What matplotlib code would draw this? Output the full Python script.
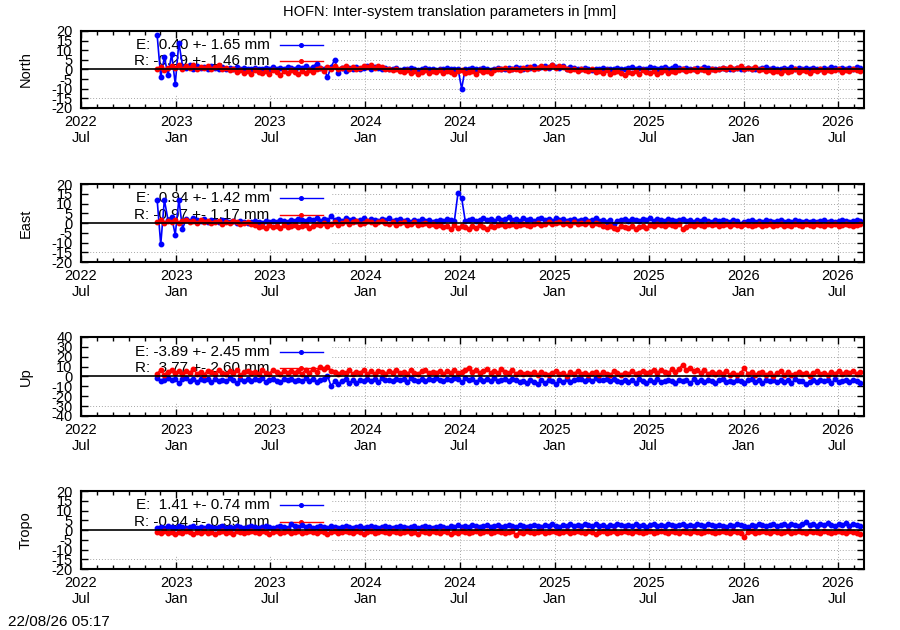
import numpy as np
import pandas as pd
import matplotlib
matplotlib.use("Agg")
import matplotlib.pyplot as plt
import matplotlib.dates as mdates
from matplotlib.patches import Rectangle

plt.rcParams['font.family'] = ['Liberation Sans', 'DejaVu Sans']

# weekly samples starting at first epoch
start_date = "2022-11-25"

north_e = [18.0, -4.0, 6.5, -3.0, 8.0, -7.5, 14.0, 2.0, 1.0, 2.5, 0.5, 2.0, 1.0,
           1.5, 0.5, 2.0, 1.0, 0.5, 1.5, 0.0, 1.0, 0.5, 1.5, 0.0, 1.0, 0.5,
           0.0, 1.0, 0.5, 0.0, 1.0, 0.5, 1.5, 0.0, 1.0, 0.5, 1.5, 1.0, 0.5,
           1.5, 1.0, 2.0, 0.5, 1.5, 3.0, 1.0, 0.5, -4.0, 1.5, 5.0, -2.0, 1.0,
           -1.0, 1.0, 0.5, 1.5, 0.0, 1.0, 2.0, 0.5, 1.5, 1.0, 0.0, 1.0, 0.5,
           0.0, 1.0, -0.5, 0.5, 0.0, 1.0, 0.5, -0.5, 0.5, 1.0, 0.0, 0.5, -0.5,
           0.5, 0.0, 1.0, 0.5, 0.0, 0.5, -10.0, 0.5, 0.0, 1.0, 0.5, 0.0, 1.0,
           0.5, -0.5, 0.5, 1.0, 0.0, 0.5, 1.0, 0.5, 1.5, 1.0, 0.5, 1.5, 1.0,
           2.0, 1.0, 1.5, 2.0, 1.0, 2.5, 1.5, 1.0, 2.0, 0.5, 1.5, 1.0, 0.5,
           0.0, 1.0, 0.5, -0.5, 0.5, 0.0, 1.0, 0.5, 0.0, 0.5, 1.0, 0.0, 0.5,
           1.0, 1.5, 0.5, 1.0, 0.0, 0.5, 1.5, 1.0, 0.5, 1.0, 1.5, 0.5, 1.0,
           2.0, 1.0, 0.5, 1.0, 0.0, 0.5, 1.0, 0.5, 1.5, 1.0, 0.5, 0.0, 0.5,
           1.0, 0.5, 0.0, 0.5, 1.0, 0.0, 0.5, 1.0, 0.5, 0.0, 0.5, 1.0, 1.5,
           0.5, 1.0, 0.5, 0.0, 1.0, 0.5, 1.5, 0.5, 1.0, 0.5, 1.0, 0.5, 1.0,
           0.0, 0.5, 1.0, 0.5, 1.5, 1.0, 0.5, 1.0, 0.5, 1.0, 0.5, 1.5, 1.0]
north_r = [0.5, 1.5, -0.5, 1.0, 2.0, 1.0, 2.5, 0.5, 2.0, 1.0, 2.5, 0.0, 1.5,
           1.0, 2.0, 0.5, 1.5, 2.5, 0.5, 1.0, -0.5, 0.0, -1.5, -0.5, -2.0, -1.0,
           -2.5, -0.5, -1.5, -2.0, -1.0, -2.5, -0.5, -1.5, -3.0, -1.0, -2.0, -0.5, -1.5,
           -2.5, -1.0, -2.0, -0.5, -1.5, 0.0, 1.0, -1.0, 1.5, 0.0, 2.0, 0.5, 1.0,
           2.0, 0.5, 1.5, 0.0, 1.0, 2.0, 1.5, 2.5, 1.0, 2.0, 1.5, 0.5, 0.0,
           -0.5, 0.5, -1.0, -1.5, -0.5, -2.0, -1.0, -2.5, -1.5, -0.5, -2.0, -1.0, -1.5,
           -0.5, -2.0, -1.0, -1.5, -2.5, -1.0, -0.5, -2.0, -1.5, -1.0, -2.5, -0.5, -1.5,
           -1.0, -2.0, -0.5, 0.5, 0.0, 1.0, -0.5, 0.5, 0.0, -0.5, 1.0, 0.5, 1.5,
           0.5, 1.0, 2.0, 1.0, 1.5, 2.5, 1.0, 2.0, 1.5, 0.0, -0.5, 0.5, -1.0,
           0.0, -0.5, -1.0, 0.5, -1.5, -1.0, -2.0, -0.5, -2.5, -1.5, -1.0, -2.0, -3.0,
           -1.5, -2.0, -1.0, -2.5, -0.5, -1.5, -2.0, -1.0, -2.5, -1.5, -0.5, -2.0, -1.0,
           -1.5, -0.5, 0.0, -1.0, -0.5, 0.5, -1.0, 0.0, -0.5, -1.5, 0.0, -0.5, 0.5,
           1.0, 0.0, 1.5, 0.5, 1.0, 2.0, 0.5, 1.0, 0.0, 1.5, -0.5, 0.0, -1.0,
           -0.5, -1.5, -1.0, -2.0, -0.5, -1.5, -1.0, 0.0, -1.5, -0.5, -1.0, -2.0, -0.5,
           -1.0, 0.0, -1.5, -0.5, -1.0, -0.5, 0.0, -1.5, -0.5, -1.0, 0.0, -0.5, -1.0]

east_e = [12.0, -11.0, 12.0, 1.5, 3.0, -6.0, 12.0, -3.0, 2.0, 1.0, 2.5, 1.5, 1.0,
          2.0, 0.5, 1.5, 1.0, 0.5, 1.5, 1.0, 0.5, 1.0, 0.0, 1.0, 0.5, 0.0,
          0.5, 1.0, 0.5, 0.0, 1.0, 0.5, 1.0, 0.5, 1.5, 1.0, 0.5, 1.5, 1.0,
          2.0, 1.5, 1.0, 2.0, 1.5, 2.5, 1.0, 2.0, 1.5, 3.5, 1.5, 2.0, 1.0,
          2.5, 1.5, 2.0, 1.0, 1.5, 2.5, 1.0, 2.0, 1.5, 1.0, 2.0, 1.5, 2.5,
          1.0, 1.5, 2.0, 1.0, 1.5, 0.5, 1.5, 1.0, 2.0, 1.0, 1.5, 0.5, 1.0,
          1.5, 1.0, 2.0, 1.5, 1.0, 15.5, 13.0, 1.0, 1.5, 2.0, 1.0, 1.5, 2.5,
          1.5, 2.0, 1.0, 2.5, 1.5, 2.0, 3.0, 1.5, 2.0, 1.0, 2.5, 1.5, 2.0,
          1.0, 2.0, 2.5, 1.5, 2.0, 1.0, 2.5, 1.5, 2.0, 1.0, 1.5, 2.0, 1.0,
          1.5, 2.0, 1.0, 1.5, 2.5, 1.0, 1.5, 0.5, 1.5, -0.5, 1.0, 1.5, 2.0,
          1.0, 2.0, 1.5, 1.0, 2.0, 1.5, 2.5, 1.0, 2.0, 1.5, 1.0, 2.0, 1.5,
          1.0, 1.5, 2.0, 1.0, 1.5, 0.5, 1.5, 1.0, 2.0, 1.0, 0.5, 1.5, 1.0,
          1.5, 1.0, 0.5, 1.5, 1.0, -0.5, 0.5, 1.0, 1.5, 0.5, 1.0, 0.5, 1.5,
          1.0, 0.5, 1.0, 1.5, 0.5, 1.0, 0.5, 1.5, 1.0, 0.5, 1.0, 0.5, 1.0,
          0.5, 1.0, 1.5, 0.5, 1.0, 0.5, 1.0, 1.5, 1.0, 0.5, 1.0, 1.5, 1.0]
east_r = [0.5, 1.5, 0.0, 1.0, 0.5, 1.5, 0.0, 1.0, 1.5, 0.5, 1.0, 0.0, 1.5,
          0.5, 1.0, 0.0, 0.5, 1.0, -0.5, 0.5, 0.0, 1.0, 0.5, -0.5, 0.0, 0.5,
          -0.5, -1.0, -2.0, -1.5, -2.5, -1.0, -2.0, -1.5, -2.5, -1.0, -2.0, -1.5, -1.0,
          -2.0, -1.5, -1.0, -2.5, -1.5, -0.5, -1.0, 0.0, -1.5, -0.5, 0.5, -1.0, 0.0,
          1.0, -0.5, 0.5, 1.0, -0.5, 0.0, 1.0, 0.5, -0.5, 0.5, 1.0, 0.0, -0.5,
          0.5, -1.0, 0.0, 0.5, -1.0, -0.5, 0.5, -1.0, -0.5, 0.0, -1.0, -0.5, -1.5,
          -1.0, -2.0, -1.5, -3.0, -1.0, -2.5, -1.5, -2.0, -3.0, -1.5, -2.5, -1.0, -2.0,
          -3.0, -1.5, -2.0, -1.0, -0.5, -1.5, -1.0, -0.5, -1.5, -1.0, -0.5, -1.0, -1.5,
          -0.5, 0.0, -1.0, -0.5, 0.5, -0.5, 0.0, 0.5, -0.5, 0.0, -1.0, 0.5, -0.5,
          0.0, -0.5, 0.5, -1.0, 0.0, -0.5, -1.5, -2.0, -1.5, -2.5, -3.0, -1.5, -2.0,
          -2.5, -1.5, -3.0, -2.0, -1.5, -2.5, -1.0, -1.5, -0.5, -1.0, -1.5, -0.5, -1.0,
          -1.5, -0.5, -3.0, -2.0, -1.0, -1.5, -0.5, -1.0, -1.5, -0.5, -1.0, -0.5, -1.5,
          -1.0, -0.5, -1.5, -0.5, -1.0, -1.5, -0.5, -1.0, -1.5, -1.0, -0.5, -1.5, -1.0,
          -0.5, -1.5, -1.0, -0.5, -1.5, -1.0, -1.5, -0.5, -1.0, -1.5, -0.5, -1.0, -1.5,
          -0.5, -1.0, -1.5, -0.5, -1.0, -0.5, -1.5, -1.0, -0.5, -1.0, -1.5, -1.0, -0.5]

up_e = [-2.0, -5.0, -3.5, -1.5, -4.0, -2.5, -6.5, -3.0, -2.0, -4.5, -3.0, -5.5, -2.5,
        -4.0, -3.0, -6.0, -2.5, -4.5, -3.5, -5.0, -2.0, -4.0, -6.5, -3.0, -4.5, -2.5,
        -5.0, -3.0, -4.0, -2.0, -5.5, -3.5, -2.5, -4.5, -6.0, -3.0, -4.0, -2.5, -5.0,
        -3.5, -4.5, -2.0, -5.0, -3.0, -6.0, -4.0, -2.5, 1.0, -10.0, -4.5, -8.0, -5.0,
        -3.0, -6.5, -4.0, -7.0, -3.5, -5.0, -2.5, -4.5, -3.0, -5.5, -2.0, -4.0, -3.5,
        -5.0, -2.5, -4.0, -3.0, -5.5, -2.0, -3.5, -4.5, -2.5, -5.0, -3.0, -4.0, -2.0,
        -3.5, -5.0, -2.5, -4.0, -1.5, -3.0, -5.5, -2.0, -4.0, -3.0, -6.0, -2.5, -4.5,
        -3.0, -5.0, -2.0, -4.5, -3.5, -2.5, -5.0, -3.0, -4.0, -6.0, -4.5, -7.0, -3.5,
        -5.5, -8.0, -4.0, -6.5, -3.5, -5.0, -7.5, -4.0, -6.0, -3.0, -5.5, -4.0, -3.0,
        -2.5, -4.5, -3.0, -5.0, -2.0, -4.0, -3.5, -2.5, -5.0, -3.0, -4.5, -6.0, -3.5,
        -5.5, -4.0, -6.5, -3.0, -5.0, -7.0, -4.0, -5.5, -3.0, -6.0, -4.5, -3.5, -5.0,
        -6.5, -3.5, -5.0, -4.0, -7.0, -3.0, -5.5, -4.0, -6.0, -3.5, -5.0, -6.5, -4.0,
        -3.0, -5.5, -4.5, -6.0, -3.5, -5.0, -7.0, -4.0, -3.0, -5.5, -4.0, -6.5, -3.5,
        -5.0, -4.0, -6.0, -3.5, -5.5, -4.0, -6.5, -3.0, -5.0, -4.5, -8.0, -5.5, -4.0,
        -6.0, -3.5, -5.0, -4.0, -6.5, -3.0, -5.5, -4.5, -3.5, -6.0, -4.0, -5.0, -6.5]
up_r = [3.0, 6.5, 2.0, 5.0, 7.0, 3.5, 5.5, 2.5, 6.0, 4.0, 7.5, 3.0, 5.0,
        2.0, 6.0, 4.5, 3.0, 7.0, 4.0, 2.5, 5.5, 3.5, 6.5, 2.0, 4.5, 6.0,
        3.5, 5.0, 2.5, 6.5, 4.0, 3.0, 7.0, 4.5, 2.5, 5.5, 3.5, 6.0, 4.0,
        5.5, 3.0, 6.5, 4.0, 7.5, 5.0, 9.5, 8.0, 10.0, 6.0, 4.5, 2.5, 5.0,
        3.5, 6.5, 2.5, 5.0, 4.0, 7.0, 3.0, 5.5, 2.5, 6.0, 4.5, 3.0, 5.5,
        4.0, 7.0, 3.5, 5.0, 2.5, 6.5, 4.0, 3.0, 5.5, 7.0, 3.5, 5.0, 4.0,
        6.0, 3.0, 5.5, 4.0, 6.5, 3.5, 5.0, 7.0, 9.0, 4.5, 6.5, 3.5, 5.5,
        7.5, 4.0, 6.0, 3.5, 8.0, 5.0, 4.0, 6.5, 3.0, 5.0, 2.5, 4.0, 3.0,
        5.0, 2.0, 4.5, 3.0, 1.5, 4.0, 5.5, 2.5, 3.5, 1.0, 4.5, 3.0, 5.5,
        2.5, 4.0, 1.5, 3.5, 5.0, 2.0, 4.5, 3.0, 1.5, 5.5, 3.5, 2.0, 4.0,
        3.0, 5.5, 2.5, 4.0, 6.0, 3.5, 5.0, 7.0, 4.0, 6.5, 5.0, 3.5, 7.5,
        5.0, 8.0, 12.0, 6.5, 9.0, 5.5, 7.0, 4.0, 6.5, 3.0, 5.0, 2.5, 4.5,
        3.0, 5.5, 2.0, 4.0, 1.5, 3.5, 9.0, 2.5, 4.5, 1.5, 3.5, 5.0, 2.0,
        4.0, 1.0, 3.5, 5.5, 2.0, 4.5, 1.5, 3.0, 5.0, 2.5, 4.0, 1.0, 3.5,
        5.5, 2.5, 4.0, 1.5, 5.0, 3.0, 6.0, 2.5, 4.5, 3.5, 5.5, 3.0, 4.5]

tropo_e = [1.0, 1.5, 1.0, 2.0, 1.5, 1.0, 2.0, 1.5, 1.0, 1.5, 2.0, 1.0, 1.5,
           1.0, 2.0, 1.5, 1.0, 1.5, 2.0, 1.0, 1.5, 1.0, 2.0, 1.5, 1.0, 1.5,
           2.0, 1.5, 1.0, 1.5, 2.0, 1.5, 1.0, 1.5, 2.0, 1.5, 1.0, 3.0, 2.0,
           1.5, 2.5, 1.5, 2.0, 1.0, 1.5, 2.0, 1.5, 1.0, 2.0, 1.5, 1.0, 1.5,
           2.0, 1.5, 1.0, 1.5, 2.0, 1.0, 1.5, 2.0, 1.5, 1.0, 1.5, 2.0, 1.5,
           1.0, 1.5, 2.0, 1.5, 1.0, 1.5, 2.0, 1.0, 1.5, 2.0, 1.5, 1.0, 1.5,
           2.0, 1.5, 1.0, 2.0, 1.5, 2.5, 1.5, 2.0, 1.5, 2.5, 2.0, 1.5, 2.0,
           2.5, 1.5, 2.0, 2.5, 1.5, 2.0, 2.5, 2.0, 1.5, 2.5, 2.0, 1.5, 2.0,
           2.5, 2.0, 1.5, 2.5, 2.0, 3.0, 2.0, 1.5, 2.5, 2.0, 3.0, 2.0, 2.5,
           2.0, 3.0, 2.5, 2.0, 3.0, 2.0, 2.5, 1.5, 2.5, 2.0, 3.0, 2.5, 2.0,
           2.5, 2.0, 3.0, 2.0, 2.5, 1.5, 2.5, 3.0, 2.0, 2.5, 2.0, 3.0, 2.5,
           2.0, 2.5, 3.0, 2.0, 2.5, 2.0, 3.0, 2.5, 2.0, 3.0, 2.5, 2.0, 2.5,
           2.0, 1.5, 2.5, 2.0, 3.0, 2.5, 2.0, 1.5, 2.5, 2.0, 3.0, 2.5, 2.0,
           2.5, 3.0, 2.0, 2.5, 3.0, 2.0, 3.0, 2.5, 2.0, 3.0, 4.0, 2.5, 3.0,
           2.0, 3.0, 2.5, 3.5, 2.5, 2.0, 3.0, 2.5, 3.5, 2.0, 3.0, 2.5, 2.0]
tropo_r = [-1.0, -1.5, -0.5, -1.5, -1.0, -2.0, -1.0, -1.5, -0.5, -1.0, -2.0, -1.0, -1.5,
           -0.5, -1.5, -1.0, -2.0, -1.0, -0.5, -1.5, -1.0, -2.0, -0.5, -1.0, -1.5, -1.0,
           -0.5, -1.0, -1.5, -0.5, -1.0, -2.0, -1.0, -0.5, -1.5, -1.0, -0.5, -1.5, -1.0,
           -0.5, -1.5, -1.0, -0.5, -1.0, -1.5, -0.5, -1.0, -2.0, -1.0, -0.5, -1.5, -1.0,
           -0.5, -1.0, -1.5, -0.5, -1.0, -2.0, -1.0, -0.5, -1.5, -1.0, -0.5, -1.0, -1.5,
           -0.5, -1.0, -1.5, -1.0, -0.5, -1.5, -1.0, -2.0, -0.5, -1.0, -1.5, -0.5, -1.0,
           -1.5, -0.5, -1.0, -2.0, -1.0, -1.5, -0.5, -1.0, -1.5, -1.0, -0.5, -1.5, -1.0,
           -0.5, -1.5, -1.0, -0.5, -1.0, -1.5, -1.0, -0.5, -2.5, -1.0, -1.5, -0.5, -1.0,
           -1.5, -1.0, -0.5, -1.5, -1.0, -0.5, -1.0, -1.5, -1.0, -0.5, -1.5, -1.0, -0.5,
           -1.0, -1.5, -0.5, -1.0, -2.0, -1.0, -0.5, -1.5, -1.0, -0.5, -1.5, -1.0, -0.5,
           -1.0, -1.5, -0.5, -1.0, -1.5, -1.0, -0.5, -1.5, -1.0, -0.5, -1.0, -1.5, -0.5,
           -1.0, -1.5, -0.5, -1.0, -1.5, -0.5, -1.0, -1.5, -1.0, -0.5, -1.0, -1.5, -1.0,
           -0.5, -1.0, -1.5, -0.5, -1.0, -1.5, -3.5, -1.0, -0.5, -1.5, -1.0, -0.5, -1.0,
           -1.5, -0.5, -1.0, -1.5, -1.0, -0.5, -1.5, -1.0, -0.5, -1.0, -1.5, -0.5, -1.0,
           -1.0, -1.5, -0.5, -1.0, -1.5, -1.0, -0.5, -1.0, -1.5, -0.5, -1.0, -1.5, -2.0]

panel_names = ["North", "East", "Up", "Tropo"]
e_labels = ["E:  0.40 +- 1.65 mm", "E:  0.94 +- 1.42 mm", "E: -3.89 +- 2.45 mm", "E:  1.41 +- 0.74 mm"]
r_labels = ["R: -0.29 +- 1.46 mm", "R: -0.97 +- 1.17 mm", "R:  3.77 +- 2.60 mm", "R: -0.94 +- 0.59 mm"]
y_limits = [20, 20, 40, 20]
y_steps = [5, 5, 10, 5]
series = [(north_e, north_r), (east_e, east_r), (up_e, up_r), (tropo_e, tropo_r)]

fs = 10.5
fig = plt.figure(figsize=(9, 6.3), dpi=100)
bottoms = [0.8286, 0.5841, 0.3397, 0.0968]
heights = [0.1222, 0.1238, 0.1254, 0.1238]

x0 = pd.Timestamp("2022-07-01")
x1 = pd.Timestamp("2026-08-21")

for k in range(4):
    ax = fig.add_axes([0.09, bottoms[k], 0.87, heights[k]])
    e_vals, r_vals = series[k]
    e_dates = pd.date_range(start_date, periods=len(e_vals), freq="7D")
    r_dates = pd.date_range(start_date, periods=len(r_vals), freq="7D")
    lim = y_limits[k]
    yt = np.arange(-lim, lim + 1, y_steps[k])

    # grid (drawn by hand so the opaque key box can cover it)
    for y in yt:
        ax.axhline(y, color="#a8a8a8", lw=0.7, ls=(0, (1, 2)), zorder=0.5)
    for d in pd.date_range("2022-07-01", "2026-07-01", freq="6MS"):
        ax.axvline(d, color="#a8a8a8", lw=0.7, ls=(0, (1, 2)), zorder=0.5)
    ax.add_patch(Rectangle((0, 0.17), 0.32, 0.83, transform=ax.transAxes,
                           facecolor="white", edgecolor="none", zorder=1))

    ax.plot(e_dates, e_vals, color="#0000ff", lw=1.2, marker="o", ms=3.2, zorder=3)
    ax.plot(r_dates, r_vals, color="#ff0000", lw=1.2, marker="o", ms=3.2, zorder=3.1)
    ax.axhline(0, color="black", lw=1.2, zorder=4)

    # key
    for yy, lab, col in [(0.815, e_labels[k], "#0000ff"), (0.605, r_labels[k], "#ff0000")]:
        ax.text(0.241, yy, lab, transform=ax.transAxes, ha="right", va="center",
                fontsize=11, zorder=2)
        ax.plot([0.254, 0.309], [yy, yy], transform=ax.transAxes, color=col, lw=1, zorder=2)
        ax.plot([0.2815], [yy], transform=ax.transAxes, color=col, marker="o", ms=2.6, zorder=2)

    ax.set_xlim(x0, x1)
    ax.set_ylim(-lim, lim)
    ax.set_yticks(yt)
    ax.set_yticklabels([str(v) for v in yt])
    ax.xaxis.set_major_locator(mdates.MonthLocator(bymonth=[1, 7]))
    ax.xaxis.set_major_formatter(mdates.DateFormatter("%Y\n%b"))
    ax.xaxis.set_minor_locator(mdates.MonthLocator())
    ax.tick_params(which="both", direction="in", top=True, right=True, labelsize=fs, width=1)
    ax.tick_params(which="major", length=5)
    ax.tick_params(which="minor", length=3)
    ax.tick_params(axis="y", pad=6)
    ax.tick_params(axis="x", pad=5)
    ax.set_axisbelow(False)
    for sp in ax.spines.values():
        sp.set_linewidth(1.5)
        sp.set_zorder(5)
    ax.set_ylabel(panel_names[k], fontsize=fs)
    ax.yaxis.set_label_coords(-0.062, 0.5)

fig.text(0.5, 0.981, "HOFN: Inter-system translation parameters in [mm]", ha="center",
         va="center", fontsize=fs)
fig.text(0.009, 0.013, "22/08/26 05:17", ha="left", va="center", fontsize=11)

fig.savefig("out.png", dpi=100)
